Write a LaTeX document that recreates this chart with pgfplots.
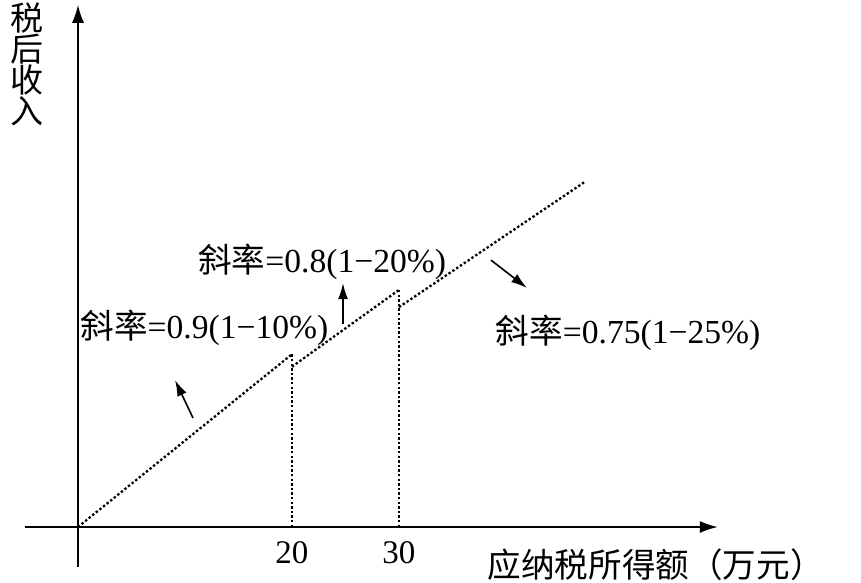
\documentclass[border=0pt]{standalone}
\usepackage{fontspec}
\setmainfont{Liberation Serif}
\newfontfamily\cjk{Noto Sans CJK SC}
\usepackage{pgfplots}
\pgfplotsset{compat=1.18}
\usetikzlibrary{arrows.meta}
\begin{document}
\begin{tikzpicture}
\begin{axis}[
  x=5.35pt, y=4.8pt,
  xmin=-5, xmax=59.8, ymin=-4.2, ymax=54.4,
  axis lines=middle,
  axis line style={line width=0.9pt, -{Latex[length=9pt,width=6pt]}},
  xtick={20,30}, ytick=\empty,
  major tick length=0pt,
  xticklabel style={anchor=center, yshift=-13pt, font=\fontsize{16.5}{19}\selectfont},
  /pgf/number format/assume math mode=true,
  clip=false,
]
\addplot[black, line width=1.15pt, dash pattern=on 1.2pt off 1.1pt] coordinates {(0,0) (20,18)};
\addplot[black, line width=1.15pt, dash pattern=on 1.2pt off 1.1pt] coordinates {(20,16.7) (30,24.7)};
\addplot[black, line width=1.15pt, dash pattern=on 1.2pt off 1.1pt] coordinates {(30,22.9) (47.3,35.9)};
\addplot[black, line width=1.15pt, dash pattern=on 1.2pt off 1.1pt] coordinates {(20,0) (20,18)};
\addplot[black, line width=1.15pt, dash pattern=on 1.2pt off 1.1pt] coordinates {(30,0) (30,24.7)};

\draw[-{Latex[length=8pt,width=5pt]}, line width=0.8pt] (axis cs:10.75,11.35) -- (axis cs:9.07,15.3);
\draw[-{Latex[length=8pt,width=5pt]}, line width=0.8pt] (axis cs:24.77,21.15) -- (axis cs:24.77,25.4);
\draw[-{Latex[length=8pt,width=5pt]}, line width=0.8pt] (axis cs:38.6,27.8) -- (axis cs:41.96,24.9);

\node[anchor=west, inner sep=0pt, font=\fontsize{16.8}{19}\selectfont] at (axis cs:0.19,20.7) {{\cjk 斜率}=0.9(1−10\%)};
\node[anchor=west, inner sep=0pt, font=\fontsize{16.8}{19}\selectfont] at (axis cs:11.2,27.6) {{\cjk 斜率}=0.8(1−20\%)};
\node[anchor=west, inner sep=0pt, font=\fontsize{16.8}{19}\selectfont] at (axis cs:39.0,20.2) {{\cjk 斜率}=0.75(1−25\%)};
\node[inner sep=0pt, font=\fontsize{16.8}{19}\selectfont\cjk] at (axis cs:54.0,-3.96) {应纳税所得额（万元）};
\node[inner sep=0pt, align=center, font=\fontsize{16.5}{15.5}\selectfont\cjk] at (axis cs:-4.77,48.2) {税\\后\\收\\入};

\coordinate (bl) at (axis cs:-7.29,-5.73);
\coordinate (tr) at (axis cs:73.18,54.9);
\end{axis}
\pgfresetboundingbox
\path[use as bounding box] (bl) rectangle (tr);
\end{tikzpicture}
\end{document}
